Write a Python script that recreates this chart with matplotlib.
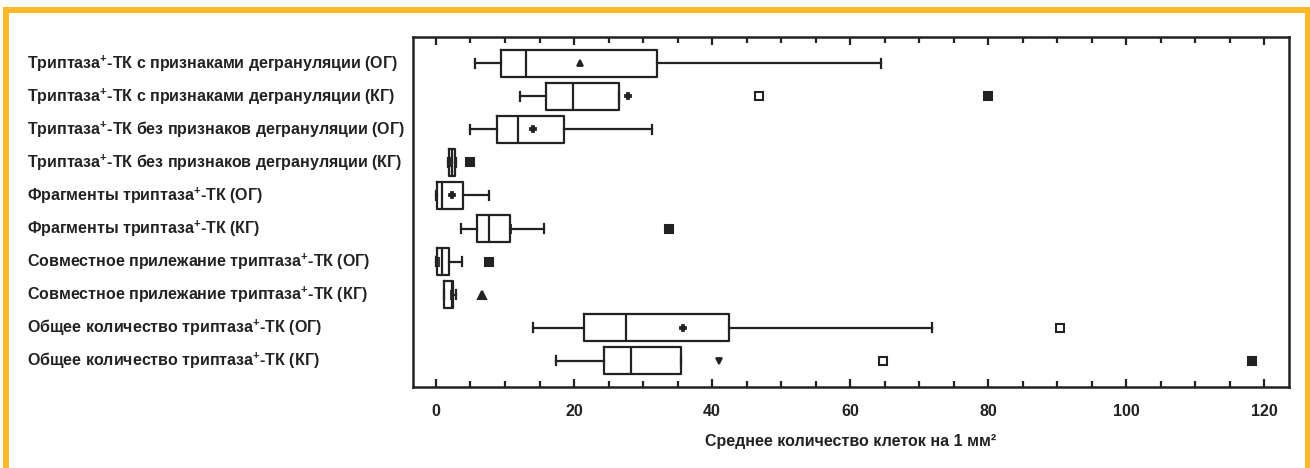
import matplotlib
matplotlib.use("Agg")
import matplotlib.pyplot as plt
from matplotlib import font_manager
from matplotlib.patches import Rectangle
from matplotlib.ticker import MultipleLocator
import matplotlib.transforms as mtransforms

labels = [
    "Триптаза$^{+}$-ТК с признаками дегрануляции (ОГ)",
    "Триптаза$^{+}$-ТК с признаками дегрануляции (КГ)",
    "Триптаза$^{+}$-ТК без признаков дегрануляции (ОГ)",
    "Триптаза$^{+}$-ТК без признаков дегрануляции (КГ)",
    "Фрагменты триптаза$^{+}$-ТК (ОГ)",
    "Фрагменты триптаза$^{+}$-ТК (КГ)",
    "Совместное прилежание триптаза$^{+}$-ТК (ОГ)",
    "Совместное прилежание триптаза$^{+}$-ТК (КГ)",
    "Общее количество триптаза$^{+}$-ТК (ОГ)",
    "Общее количество триптаза$^{+}$-ТК (КГ)",
]
whislo = [5.6, 12.2, 4.9, 1.8, 0.0, 3.6, 0.0, 1.1, 14.0, 17.4]
q1 = [9.4, 15.9, 8.8, 1.9, 0.1, 6.0, 0.1, 1.2, 21.5, 24.3]
med = [13.0, 19.9, 11.9, 2.3, 0.8, 7.7, 0.8, 2.3, 27.5, 28.2]
q3 = [32.0, 26.5, 18.6, 2.8, 3.9, 10.7, 1.9, 2.4, 42.5, 35.5]
whishi = [64.5, 26.5, 31.3, 2.9, 7.7, 15.7, 3.7, 2.9, 71.8, 35.5]
means = [20.9, 27.8, 14.0, 2.0, 2.3, 10.8, 0.5, 2.2, 35.8, 41.0]
mean_marker = ["^", "P", "P", "|", "P", "|", "|", "|", "P", "v"]

out_row = [2, 2, 4, 6, 7, 8, 9, 10, 10]
out_val = [46.8, 80.0, 5.0, 33.7, 7.7, 6.6, 90.4, 64.8, 118.2]
out_filled = [False, True, True, True, True, True, False, False, True]
out_marker = ["s", "s", "s", "s", "s", "^", "s", "s", "s"]

names = {f.name for f in font_manager.fontManager.ttflist}
FAM = "Liberation Sans Narrow" if "Liberation Sans Narrow" in names else "Liberation Sans"
FONT = [FAM, "DejaVu Sans"]
INK = "#222222"
ORANGE = "#FDB927"

plt.rcParams["mathtext.fontset"] = "custom"
plt.rcParams["mathtext.rm"] = FAM + ":bold"
plt.rcParams["mathtext.bf"] = FAM + ":bold"
plt.rcParams["mathtext.default"] = "rm"

fig = plt.figure(figsize=(13.1, 4.68), dpi=100)
ax = fig.add_axes([413 / 1310, 1 - 387 / 468, (1289 - 413) / 1310, (387 - 37) / 468])

pos = list(range(1, len(labels) + 1))
stats = []
for i in range(len(labels)):
    stats.append({"whislo": whislo[i], "q1": q1[i], "med": med[i],
                  "q3": q3[i], "whishi": whishi[i], "label": ""})

lp = {"color": INK, "linewidth": 1.6}
ax.bxp(stats, positions=pos, orientation="horizontal", widths=0.8,
       capwidths=0.28, showfliers=False, boxprops=lp, whiskerprops=lp,
       capprops=lp, medianprops=lp)

for i in range(len(labels)):
    m = mean_marker[i]
    ms = 5 if m in ("^", "v", "P") else 7
    ax.plot(means[i], pos[i], marker=m, color=INK, markersize=ms,
            markeredgewidth=1.3, linestyle="none")

for r, v, f, m in zip(out_row, out_val, out_filled, out_marker):
    ax.plot(v, r, marker=m, markersize=5.5, markeredgecolor=INK,
            markerfacecolor=INK if f else "white", markeredgewidth=1.5,
            linestyle="none")

ax.set_xlim(-3.33, 123.6)
ax.set_ylim(10.8, 0.2)
ax.set_yticks([])
ax.xaxis.set_major_locator(MultipleLocator(20))
ax.xaxis.set_minor_locator(MultipleLocator(5))
ax.tick_params(axis="x", which="both", direction="in", top=True, bottom=True,
               color=INK, width=1.6)
ax.tick_params(axis="x", which="major", length=6, pad=12)
ax.tick_params(axis="x", which="minor", length=4)
for lab in ax.get_xticklabels():
    lab.set_fontfamily(FONT)
    lab.set_fontweight("bold")
    lab.set_fontsize(11.5)
    lab.set_color(INK)
for s in ax.spines.values():
    s.set_color(INK)
    s.set_linewidth(1.8)

ax.set_xlabel("Среднее количество клеток на 1 мм²", family=FONT,
              fontweight="bold", fontsize=11.5, color=INK, labelpad=11)

trans = mtransforms.blended_transform_factory(fig.transFigure, ax.transData)
for i, lab in enumerate(labels):
    ax.text(27 / 1310, pos[i], lab, transform=trans, ha="left", va="center",
            family=FONT, fontweight="bold", fontsize=11.5, color=INK)

fig.add_artist(Rectangle((6 / 1310, -0.2), (1307.5 - 6) / 1310, 1.2 - 10 / 468,
                         transform=fig.transFigure, fill=False,
                         edgecolor=ORANGE, linewidth=4.3))

fig.savefig("out.png", dpi=100)
